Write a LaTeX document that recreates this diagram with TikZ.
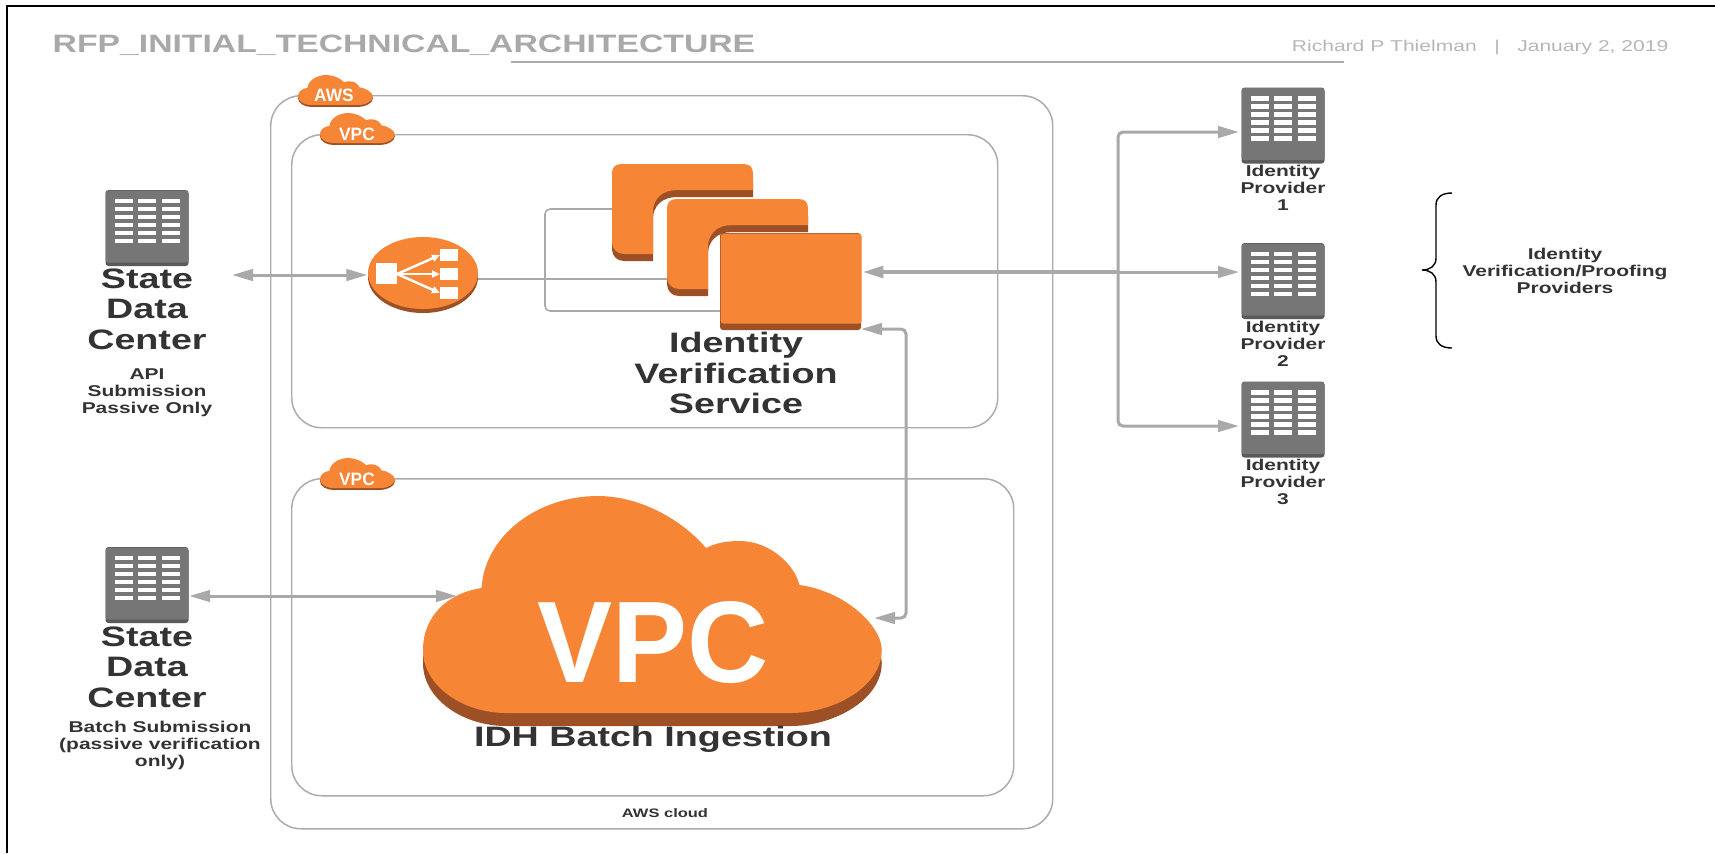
\documentclass[tikz,border=0pt]{standalone}
\usepackage{fontspec}
\setmainfont[FakeStretch=1.34]{Liberation Sans}
\newfontfamily\badgefont[FakeStretch=.97]{Liberation Sans}
\usetikzlibrary{arrows.meta,shapes.geometric}
\definecolor{awsorange}{HTML}{F68536}
\definecolor{awsdark}{HTML}{9D5025}
\definecolor{srvgray}{HTML}{767676}
\definecolor{srvdark}{HTML}{5A5A5A}
\definecolor{linegray}{HTML}{A9A9A9}
\definecolor{zonegray}{HTML}{ABABAB}
\definecolor{inkgray}{HTML}{333333}
\newcommand{\cloudoutline}{(0,1.54) .. controls (0,1.2) and (.25,.97) .. (.59,.92) .. controls (.62,.40) and (1.15,0) .. (1.76,0) .. controls (2.20,0) and (2.62,.25) .. (2.85,.52) .. controls (2.95,.47) and (3.05,.45) .. (3.19,.45) .. controls (3.50,.45) and (3.75,.70) .. (3.79,.89) .. controls (4.25,.95) and (4.62,1.30) .. (4.62,1.54) .. controls (4.62,1.90) and (4.15,2.17) .. (3.70,2.17) -- (.84,2.17) .. controls (.40,2.17) and (0,1.90) .. (0,1.54) -- cycle}
\newcommand{\instoutline}{(0,.10) .. controls (0,.03) and (.03,0) .. (.10,0) -- (1.31,0) .. controls (1.38,0) and (1.41,.03) .. (1.41,.10) -- (1.41,.26) -- (.65,.26) .. controls (.50,.26) and (.41,.35) .. (.41,.48) -- (.41,.90) -- (.12,.90) .. controls (.05,.90) and (0,.85) .. (0,.78) -- cycle}
\tikzset{
  bigtext/.style={font=\fontsize{8}{8.7}\selectfont\bfseries,text=inkgray,align=center,inner sep=0pt},
  smalltext/.style={font=\fontsize{4.45}{4.84}\selectfont\bfseries,text=inkgray,align=center,inner sep=0pt},
  badgetext/.style={font=\fontsize{5.1}{6}\selectfont\badgefont\bfseries,text=white,inner sep=0pt},
  zonebox/.style={draw=zonegray,line width=.42pt,rounded corners=.3cm,anchor=north west,inner sep=0pt},
  serverbox/.style={fill=srvgray,rounded corners=.03cm,minimum width=.83cm,minimum height=.72cm,inner sep=0pt},
  instface/.style={fill=awsorange,rounded corners=.03cm,minimum width=1.41cm,minimum height=.90cm,anchor=north west,inner sep=0pt},
  flow/.style={draw=linegray,line width=.85pt,>={Triangle[length=.21cm,width=.115cm]}},
  hubline/.style={flow,line width=1.2pt},
  busline/.style={draw=linegray,line width=.45pt,rounded corners=.05cm},
  serverpic/.pic={
    \fill[srvdark,rounded corners=.03cm] (-.415,-.38) rectangle (.415,.38);
    \node[serverbox,anchor=north] (-box) at (0,-.38) {};
    \foreach \cx in {-.235,0,.235}
      \foreach \cy in {-.27,-.19,-.11,-.03,.05,.13}
        \fill[white] (\cx-.09,\cy-.022) rectangle (\cx+.09,\cy+.022);
  },
  cloudpic/.pic={
    \fill[awsdark,shift={(0,.13)}] \cloudoutline;
    \fill[awsorange] \cloudoutline;
  },
  instpic/.pic={
    \fill[awsdark,shift={(0,.07)}] \instoutline;
    \fill[awsorange] \instoutline;
  }
}
\begin{document}
\begin{tikzpicture}[y=-1cm]
\useasboundingbox (0,0) rectangle (17.15,8.53);
\draw[line width=.8pt] (.07,8.53) -- (.07,.06) -- (17.15,.06);
% header
\node[anchor=west,inner sep=0pt,font=\fontsize{7.16}{8}\selectfont\bfseries,text=linegray] (title) at (.52,.455) {RFP\_INITIAL\_TECHNICAL\_ARCHITECTURE};
\node[anchor=east,inner sep=0pt,font=\fontsize{4.47}{5}\selectfont,text=linegray!85] (byline) at (16.69,.47) {Richard P Thielman\ \ \ |\ \ \ January 2, 2019};
\draw[draw=zonegray,line width=.55pt] (5.11,.62) -- (13.44,.62);
% zones
\node[zonebox,minimum width=7.82cm,minimum height=7.33cm] (awszone) at (2.70,.95) {};
\node[zonebox,minimum width=7.06cm,minimum height=2.93cm] (vpczonea) at (2.91,1.34) {};
\node[zonebox,minimum width=7.22cm,minimum height=3.17cm] (vpczoneb) at (2.91,4.78) {};
\node[smalltext,font=\fontsize{3.5}{4}\selectfont\bfseries] (awslabel) at (6.65,8.13) {AWS cloud};
\pic[xscale=.162,yscale=.139] (awsbadge) at (2.98,.75) {cloudpic};
\pic[xscale=.162,yscale=.139] (vpcbadgea) at (3.20,1.13) {cloudpic};
\pic[xscale=.162,yscale=.139] (vpcbadgeb) at (3.20,4.58) {cloudpic};
\node[badgetext] (awstext) at (3.34,.955) {AWS};
\node[badgetext] (vpctexta) at (3.57,1.34) {VPC};
\node[badgetext] (vpctextb) at (3.57,4.79) {VPC};
% servers
\pic (statea) at (1.47,2.28) {serverpic};
\pic (stateb) at (1.47,5.85) {serverpic};
\pic (idpa) at (12.83,1.255) {serverpic};
\pic (idpb) at (12.83,2.81) {serverpic};
\pic (idpc) at (12.83,4.195) {serverpic};
\node[bigtext] (stateatext) at (1.47,3.09) {State\\Data\\Center};
\node[smalltext] (stateanote) at (1.47,3.93) {API\\Submission\\Passive Only};
\node[bigtext] (statebtext) at (1.47,6.67) {State\\Data\\Center};
\node[smalltext] (statebnote) at (1.60,7.455) {Batch Submission\\(passive verification\\only)};
\node[smalltext] (idpatext) at (12.83,1.88) {Identity\\Provider\\1};
\node[smalltext] (idpbtext) at (12.83,3.44) {Identity\\Provider\\2};
\node[smalltext] (idpctext) at (12.83,4.82) {Identity\\Provider\\3};
\node[smalltext] (providers) at (15.65,2.71) {Identity\\Verification/Proofing\\Providers};
\draw[line width=.4pt] (14.52,1.93) .. controls (14.42,1.93) and (14.36,1.97) .. (14.36,2.05) -- (14.36,2.58) .. controls (14.36,2.66) and (14.30,2.70) .. (14.22,2.70) .. controls (14.30,2.70) and (14.36,2.74) .. (14.36,2.82) -- (14.36,3.36) .. controls (14.36,3.44) and (14.42,3.48) .. (14.52,3.48);
% load balancer and instances
\coordinate (busmid) at (5.45,2.79);
\coordinate (instaport) at (6.14,2.09);
\coordinate (instbport) at (6.69,2.79);
\coordinate (instcport) at (7.22,3.11);
\draw[busline] (instaport) -| (busmid) |- (instcport);
\draw[busline] (4.70,2.79) -- (instbport);
\fill[awsdark] (4.23,2.77) ellipse (.55cm and .36cm);
\node[ellipse,fill=awsorange,minimum width=1.10cm,minimum height=.72cm,inner sep=0pt] (lb) at (4.23,2.73) {};
\fill[white] (3.76,2.63) rectangle (3.97,2.84);
\foreach \ty in {2.55,2.74,2.93} {
  \fill[white] (4.40,\ty-.06) rectangle (4.58,\ty+.06);
  \draw[white,line width=.7pt,-{Triangle[length=.08cm,width=.07cm]}] (3.97,2.74) -- (4.40,\ty);
}
\pic (insta) at (6.12,1.64) {instpic};
\pic (instb) at (6.67,1.99) {instpic};
\fill[awsdark,rounded corners=.03cm] (7.20,2.33) rectangle (8.61,3.30);
\node[instface] (instc) at (7.20,2.33) {};
\node[bigtext] (instcaption) at (7.36,3.73) {Identity\\Verification\\Service};
% big cloud
\pic[xscale=.993] (idhcloud) at (4.23,4.96) {cloudpic};
\node[inner sep=0pt,text=white,font=\fontsize{33}{36}\selectfont\badgefont\bfseries] (idhvpc) at (6.53,6.43) {VPC};
\node[bigtext] (idhcaption) at (6.53,7.39) {IDH Batch Ingestion};
% connectors
\coordinate (apiout) at (2.32,2.75);
\coordinate (batchin) at (4.57,5.96);
\coordinate (hub) at (11.18,2.72);
\coordinate (idpatip) at (12.39,1.32);
\coordinate (idpbtip) at (12.39,2.72);
\coordinate (idpctip) at (12.39,4.26);
\coordinate (ingestout) at (8.61,3.29);
\coordinate (ingestbend) at (9.06,6.18);
\coordinate (ingesttip) at (8.74,6.18);
\draw[flow,<->] (apiout) -- (lb.west |- apiout);
\draw[flow,<->] (stateb-box.east |- batchin) -- (batchin);
\draw[hubline,<-] (instc.east |- hub) -- (hub);
\draw[flow,->] (hub) -- (idpbtip);
\draw[flow,->,rounded corners=.05cm] (hub) |- (idpatip);
\draw[flow,->,rounded corners=.05cm] (hub) |- (idpctip);
\draw[flow,<->,rounded corners=.05cm] (ingestout) -| (ingestbend) -- (ingesttip);
\end{tikzpicture}
\end{document}
